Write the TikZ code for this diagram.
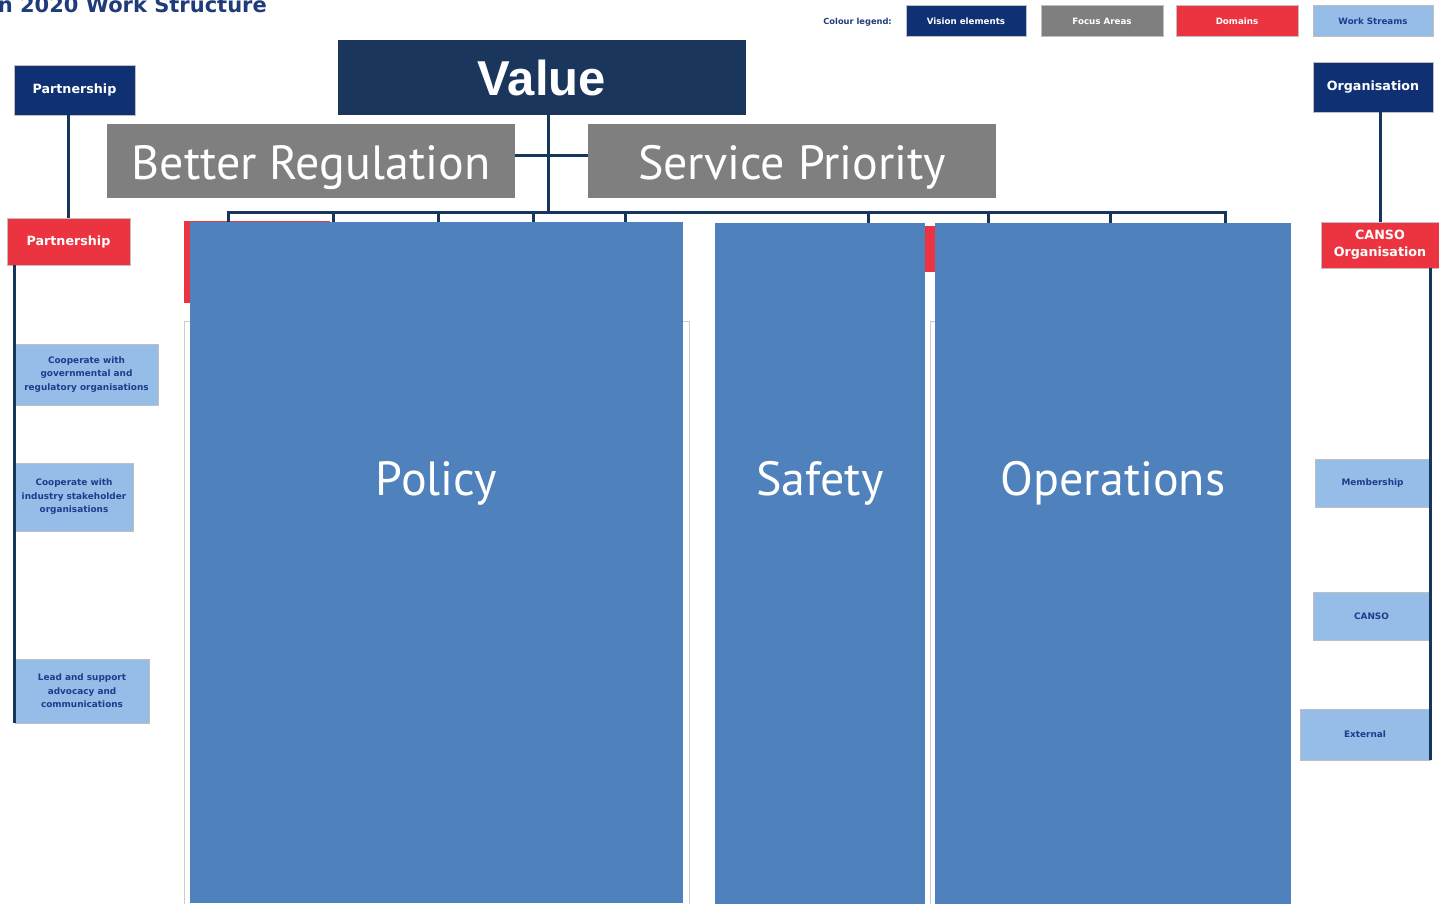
\documentclass[tikz,border=0pt]{standalone}
\usepackage{fontspec}
\setmainfont{DejaVu Sans}
\newfontfamily\ptsans{PT Sans}
\newfontfamily\arialfont{Liberation Sans}
\usetikzlibrary{positioning}
\definecolor{visionblue}{HTML}{0F3174}
\definecolor{valueblue}{HTML}{1B365D}
\definecolor{focusgray}{HTML}{7F7F7F}
\definecolor{domainred}{HTML}{EC3340}
\definecolor{streamblue}{HTML}{95BDE8}
\definecolor{streamtext}{HTML}{1F3B8C}
\definecolor{areablue}{HTML}{4F81BD}
\definecolor{linenavy}{HTML}{17365D}
\definecolor{titleblue}{HTML}{1F3B7A}

\begin{document}
\begin{tikzpicture}[x=1pt,y=-1pt,
		box/.style={draw=black!25,line width=0.8pt,inner sep=0pt,align=center},
		visionbox/.style={box,fill=visionblue,text=white,font=\bfseries\fontsize{12.7}{17}\selectfont},
		domainbox/.style={visionbox,fill=domainred},
		streambox/.style={box,fill=streamblue,text=streamtext,font=\bfseries\fontsize{8.9}{13.5}\selectfont},
		legendbox/.style={box,minimum width=120pt,minimum height=31pt,font=\bfseries\fontsize{8.7}{10}\selectfont},
		focusbox/.style={inner sep=0pt,fill=focusgray,text=white,minimum width=408pt,minimum height=74pt,
			text height=36pt,text depth=0pt,font=\ptsans\fontsize{48}{58}\selectfont},
		areabox/.style={inner sep=0pt,fill=areablue,minimum height=681pt},
		areatext/.style={anchor=base,inner sep=0pt,text=white,font=\ptsans\fontsize{48}{58}\selectfont},
		link/.style={draw=linenavy,line width=3pt}]

		\useasboundingbox (0,0) rectangle (1439,903);
		\clip (0,0) rectangle (1439,903);

		\node[anchor=base east,inner sep=0pt,text=titleblue,font=\bfseries\fontsize{21}{25}\selectfont] (title) at (267,12) {Vision 2020 Work Structure};

		\node[anchor=east,inner sep=0pt,text=titleblue,font=\bfseries\fontsize{8.3}{10}\selectfont] (legtitle) at (892,22) {Colour legend:};
		\node[legendbox,fill=visionblue,text=white] (leg1) at (966,21) {Vision elements};
		\node[legendbox,fill=focusgray,text=white,minimum width=122pt] (leg2) at (1102,21) {Focus Areas};
		\node[legendbox,fill=domainred,text=white,minimum width=122pt] (leg3) at (1237,21) {Domains};
		\node[legendbox,fill=streamblue,text=streamtext] (leg4) at (1373,21) {Work Streams};

		\fill[domainred] (184,221) rectangle (330,303);
		\fill[domainred] (918,226) rectangle (960,272);
		\draw[black!20,fill=white] (184,321) rectangle (689,910);
		\draw[black!20,fill=white] (930,321) rectangle (1010,910);

		\node[visionbox,minimum width=121pt,minimum height=50pt] (partA) at (74.5,90) {Partnership};
		\node[domainbox,minimum width=123pt,minimum height=47pt] (partB) at (68.5,241.5) {Partnership};
		\node[streambox,minimum width=143pt,minimum height=61pt] (ws1) at (86.5,374.5) {Cooperate with\\governmental and\\regulatory organisations};
		\node[streambox,minimum width=118pt,minimum height=68pt] (ws2) at (74,497) {Cooperate with\\industry stakeholder\\organisations};
		\node[streambox,minimum width=134pt,minimum height=64pt] (ws3) at (82,691) {Lead and support\\advocacy and\\communications};
		\draw[link] (partB.north |- partA.south) -- (partB.north);
		\draw[link] (ws1.west |- partB.south) -- (ws3.south west);

		\node[visionbox,minimum width=120pt,minimum height=50pt] (orgA) at (1373,87) {Organisation};
		\node[domainbox,minimum width=118pt,minimum height=46pt] (orgB) at (1380,245) {CANSO\\Organisation};
		\node[streambox,minimum width=115pt,minimum height=48pt] (ws4) at (1372.5,483) {Membership};
		\node[streambox,minimum width=117pt,minimum height=48pt] (ws5) at (1371.5,616) {CANSO};
		\node[streambox,minimum width=130pt,minimum height=51pt] (ws6) at (1365,734.5) {External};
		\draw[link] (orgB.north |- orgA.south) -- (orgB.north);
		\draw[link] (ws4.east |- orgB.south) -- (ws6.south east);

		\node[inner sep=0pt,fill=valueblue,text=white,minimum width=408pt,minimum height=75pt,
			text height=35pt,text depth=0pt,font=\arialfont\bfseries\fontsize{49}{58}\selectfont] (value) at (542,77.5) {Value};
		\node[focusbox] (better) at (311,161) {Better Regulation};
		\node[focusbox] (service) at (792,161) {Service Priority};

		\coordinate (hub) at (548,212);
		\coordinate (busL) at (228,212);
		\coordinate (busR) at (1225,212);
		\draw[link] (value.south -| hub) -- (hub);
		\draw[link] ([yshift=6pt]better.east) -- ([yshift=6pt]service.west);
		\draw[link] (busL) -- (busR);
		\foreach \x in {228,333,438,533,625,868,988,1110,1225}
			\draw[link] (\x,211) -- (\x,224);

		\node[areabox,minimum width=493pt] (policy) at (436.5,562.5) {};
		\node[areabox,minimum width=210pt] (safety) at (820,563.5) {};
		\node[areabox,minimum width=356pt] (operations) at (1113,563.5) {};
		\node[areatext] (policy-t) at (policy.center |- 0,495) {Policy};
		\node[areatext] (safety-t) at (safety.center |- 0,495) {Safety};
		\node[areatext] (operations-t) at (operations.center |- 0,495) {Operations};

\end{tikzpicture}
\end{document}
